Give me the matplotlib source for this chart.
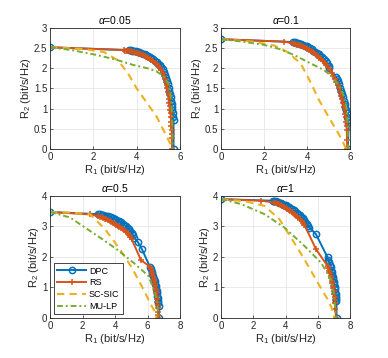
import matplotlib
matplotlib.use('Agg')
import matplotlib.pyplot as plt
from matplotlib.ticker import FuncFormatter

plt.rcParams['font.family'] = ['Liberation Sans', 'DejaVu Sans']
plt.rcParams['mathtext.fontset'] = 'custom'
plt.rcParams['mathtext.rm'] = 'Liberation Sans'
plt.rcParams['mathtext.it'] = 'Liberation Sans:italic'

COLORS = {'DPC': '#0072BD', 'RS': '#D95319', 'SC-SIC': '#EDB120', 'MU-LP': '#77AC30'}

ALPHAS = ['0.05', '0.1', '0.5', '1']

# ---- alpha = 0.05 ----
dpc_x_005 = [0, 3.65, 3.72, 3.80, 3.88, 3.96, 4.04, 4.12, 4.20, 4.28, 4.36, 4.44, 4.52, 4.60, 4.68,
             4.76, 4.84, 4.92, 5.00, 5.07, 5.14, 5.20, 5.26, 5.31, 5.36, 5.40, 5.44, 5.48, 5.51,
             5.54, 5.57, 5.59, 5.61, 5.63, 5.65, 5.67, 5.68, 5.70, 5.70]
dpc_y_005 = [2.52, 2.45, 2.445, 2.44, 2.43, 2.42, 2.41, 2.40, 2.38, 2.365, 2.35, 2.33, 2.31, 2.28, 2.25,
             2.22, 2.19, 2.15, 2.11, 2.07, 2.02, 1.97, 1.91, 1.84, 1.76, 1.68, 1.60, 1.52, 1.44,
             1.36, 1.28, 1.20, 1.12, 1.04, 0.96, 0.88, 0.80, 0.72, 0.0]
rs_x_005 = [0, 3.40, 3.48, 3.56, 3.64, 3.72, 3.80, 3.88, 3.96, 4.04, 4.12, 4.20, 4.28, 4.36, 4.44,
            4.52, 4.60, 4.68, 4.76, 4.84, 4.92, 5.00, 5.07, 5.14, 5.20, 5.25, 5.30, 5.34, 5.38,
            5.41, 5.44, 5.47, 5.49, 5.51, 5.53, 5.55, 5.56, 5.58, 5.59, 5.60, 5.61, 5.62, 5.62, 5.63]
rs_y_005 = [2.52, 2.45, 2.44, 2.435, 2.43, 2.42, 2.41, 2.40, 2.39, 2.375, 2.36, 2.345, 2.33, 2.31, 2.29,
            2.265, 2.24, 2.21, 2.18, 2.14, 2.10, 2.06, 2.01, 1.95, 1.89, 1.82, 1.74, 1.66, 1.58,
            1.50, 1.42, 1.33, 1.24, 1.15, 1.06, 0.97, 0.88, 0.78, 0.68, 0.58, 0.48, 0.38, 0.28, 0.0]
sic_x_005 = [0, 1.5, 2.5, 3.15, 3.6, 4.0, 4.5, 4.92, 5.3, 5.54, 5.62]
sic_y_005 = [2.52, 2.48, 2.40, 2.19, 1.87, 1.50, 1.12, 0.80, 0.40, 0.14, 0.0]
lp_x_005 = [0, 1.0, 2.15, 3.0, 3.85, 4.5, 4.92, 5.2, 5.46, 5.6, 5.64, 5.66]
lp_y_005 = [2.52, 2.45, 2.33, 2.22, 2.08, 2.0, 1.92, 1.82, 1.63, 1.21, 0.6, 0.0]

# ---- alpha = 0.1 ----
dpc_x_01 = [0, 3.35, 3.42, 3.50, 3.58, 3.66, 3.74, 3.82, 3.90, 3.98, 4.06, 4.14, 4.22, 4.30, 4.38,
            4.46, 4.54, 4.62, 4.70, 4.78, 4.86, 4.94, 5.00, 5.02, 5.35, 5.40, 5.45, 5.50, 5.55,
            5.60, 5.64, 5.68, 5.72, 5.75, 5.78, 5.81, 5.84, 5.87, 5.89, 5.92, 5.94, 5.90]
dpc_y_01 = [2.72, 2.65, 2.645, 2.635, 2.625, 2.61, 2.595, 2.58, 2.56, 2.54, 2.52, 2.495, 2.47, 2.44, 2.41,
            2.38, 2.35, 2.31, 2.27, 2.23, 2.18, 2.12, 2.05, 2.00, 1.78, 1.74, 1.68, 1.60, 1.52,
            1.44, 1.36, 1.28, 1.20, 1.12, 1.04, 0.96, 0.88, 0.80, 0.72, 0.64, 0.56, 0.0]
rs_x_01 = [0, 2.95, 3.30, 3.38, 3.46, 3.54, 3.62, 3.70, 3.78, 3.86, 3.94, 4.02, 4.10, 4.18, 4.26,
           4.34, 4.42, 4.50, 4.58, 4.66, 4.74, 4.82, 4.90, 4.98, 5.06, 5.14, 5.22, 5.30, 5.37,
           5.44, 5.50, 5.55, 5.60, 5.64, 5.68, 5.72, 5.75, 5.78, 5.80, 5.82, 5.84, 5.85, 5.86, 5.87]
rs_y_01 = [2.72, 2.66, 2.62, 2.61, 2.60, 2.585, 2.57, 2.555, 2.54, 2.52, 2.50, 2.48, 2.455, 2.43, 2.40,
           2.37, 2.34, 2.30, 2.26, 2.22, 2.18, 2.13, 2.08, 2.02, 1.96, 1.89, 1.82, 1.74, 1.66,
           1.58, 1.50, 1.41, 1.32, 1.23, 1.14, 1.05, 0.96, 0.87, 0.78, 0.68, 0.58, 0.48, 0.22, 0.0]
sic_x_01 = [0, 1.5, 2.5, 3.1, 3.7, 4.1, 4.56, 5.0, 5.41, 5.65, 5.82]
sic_y_01 = [2.72, 2.66, 2.56, 2.40, 2.12, 1.72, 1.21, 0.80, 0.43, 0.2, 0.0]
lp_x_01 = [0, 1.0, 1.99, 2.7, 3.39, 4.32, 4.8, 5.18, 5.57, 5.75, 5.85, 5.9, 5.91]
lp_y_01 = [2.72, 2.66, 2.58, 2.48, 2.33, 2.08, 1.95, 1.79, 1.5, 1.25, 0.97, 0.5, 0.0]

# ---- alpha = 0.5 ----
dpc_x_05 = [0, 2.97, 3.07, 3.17, 3.27, 3.37, 3.47, 3.57, 3.67, 3.77, 3.87, 3.97, 4.07, 4.17, 4.27,
            4.37, 4.47, 4.57, 4.67, 4.77, 4.87, 4.95, 5.03, 5.10, 5.19, 5.40, 5.64, 6.15, 6.20,
            6.25, 6.30, 6.35, 6.39, 6.43, 6.47, 6.50, 6.53, 6.56, 6.58, 6.61, 6.63, 6.65, 6.67,
            6.69, 6.70]
dpc_y_05 = [3.47, 3.40, 3.39, 3.38, 3.37, 3.355, 3.34, 3.325, 3.31, 3.29, 3.27, 3.25, 3.22, 3.19, 3.16,
            3.13, 3.09, 3.05, 3.01, 2.96, 2.91, 2.85, 2.78, 2.71, 2.62, 2.49, 2.27, 1.67, 1.60,
            1.52, 1.44, 1.36, 1.28, 1.20, 1.12, 1.04, 0.96, 0.88, 0.80, 0.72, 0.64, 0.56, 0.48,
            0.40, 0.0]
rs_x_05 = [0, 2.46, 2.97, 3.07, 3.17, 3.27, 3.37, 3.47, 3.57, 3.67, 3.77, 3.87, 3.97, 4.07, 4.17,
           4.27, 4.37, 4.47, 4.57, 4.67, 4.77, 4.87, 4.95, 5.03, 5.60, 6.15, 6.20, 6.25, 6.30,
           6.34, 6.38, 6.42, 6.45, 6.48, 6.51, 6.53, 6.55, 6.57, 6.59, 6.60, 6.62, 6.63, 6.65,
           6.66, 6.67]
rs_y_05 = [3.47, 3.39, 3.34, 3.32, 3.30, 3.28, 3.255, 3.23, 3.20, 3.17, 3.15, 3.12, 3.09, 3.06, 3.02,
           2.99, 2.95, 2.91, 2.87, 2.82, 2.77, 2.71, 2.64, 2.57, 1.89, 1.68, 1.60, 1.52, 1.44,
           1.36, 1.28, 1.20, 1.12, 1.04, 0.96, 0.88, 0.80, 0.72, 0.62, 0.52, 0.42, 0.32, 0.20,
           0.10, 0.0]
sic_x_05 = [0, 1.2, 2.46, 3.38, 4.3, 5.03, 5.74, 6.15, 6.4, 6.56]
sic_y_05 = [3.47, 3.45, 3.40, 2.91, 2.25, 1.65, 0.94, 0.5, 0.25, 0.0]
lp_x_05 = [0, 1.23, 2.46, 3.3, 4.1, 5.13, 6.05, 6.46, 6.6, 6.67]
lp_y_05 = [3.47, 3.29, 2.85, 2.55, 2.25, 1.81, 1.38, 0.83, 0.45, 0.0]

# ---- alpha = 1 ----
dpc_x_1 = [0, 3.20, 3.30, 3.40, 3.50, 3.60, 3.70, 3.80, 3.90, 4.00, 4.10, 4.20, 4.30, 4.40, 4.50,
           4.60, 4.70, 4.80, 4.90, 4.98, 5.06, 5.14, 5.22, 5.30, 5.38, 5.48, 5.89, 6.61, 6.66,
           6.71, 6.76, 6.80, 6.84, 6.88, 6.91, 6.94, 6.97, 7.00, 7.03, 7.05, 7.07, 7.09, 7.11,
           7.13, 7.15, 7.16, 7.17]
dpc_y_1 = [3.89, 3.84, 3.83, 3.815, 3.80, 3.78, 3.76, 3.74, 3.715, 3.69, 3.66, 3.63, 3.60, 3.565, 3.53,
           3.49, 3.45, 3.41, 3.37, 3.32, 3.26, 3.20, 3.14, 3.08, 3.02, 2.96, 2.74, 1.98, 1.90,
           1.82, 1.74, 1.66, 1.58, 1.50, 1.42, 1.34, 1.26, 1.18, 1.10, 1.02, 0.94, 0.86, 0.78,
           0.70, 0.62, 0.54, 0.0]
rs_x_1 = [0, 2.48, 3.30, 3.40, 3.50, 3.60, 3.70, 3.80, 3.90, 4.00, 4.10, 4.20, 4.30, 4.40, 4.50,
          4.60, 4.70, 4.80, 4.90, 5.00, 5.10, 5.17, 5.89, 6.61, 6.66, 6.71, 6.76, 6.80, 6.84,
          6.88, 6.91, 6.94, 6.97, 7.00, 7.02, 7.04, 7.06, 7.08, 7.10, 7.13]
rs_y_1 = [3.89, 3.84, 3.78, 3.76, 3.74, 3.72, 3.70, 3.67, 3.64, 3.61, 3.58, 3.54, 3.50, 3.46, 3.42,
          3.38, 3.33, 3.28, 3.23, 3.17, 3.11, 3.05, 2.25, 1.70, 1.62, 1.54, 1.46, 1.38, 1.30,
          1.22, 1.14, 1.06, 0.98, 0.88, 0.78, 0.68, 0.58, 0.48, 0.30, 0.0]
sic_x_1 = [0, 1.5, 2.69, 3.62, 4.34, 5.17, 5.99, 6.61, 6.85, 7.02]
sic_y_1 = [3.89, 3.82, 3.67, 3.23, 2.63, 1.92, 1.16, 0.61, 0.35, 0.0]
lp_x_1 = [0, 1.24, 2.69, 3.93, 5.17, 6.2, 6.82, 7.02, 7.13]
lp_y_1 = [3.89, 3.73, 3.40, 2.96, 2.36, 1.81, 1.27, 0.72, 0.0]

PANELS = [
    (dpc_x_005, dpc_y_005, rs_x_005, rs_y_005, sic_x_005, sic_y_005, lp_x_005, lp_y_005),
    (dpc_x_01, dpc_y_01, rs_x_01, rs_y_01, sic_x_01, sic_y_01, lp_x_01, lp_y_01),
    (dpc_x_05, dpc_y_05, rs_x_05, rs_y_05, sic_x_05, sic_y_05, lp_x_05, lp_y_05),
    (dpc_x_1, dpc_y_1, rs_x_1, rs_y_1, sic_x_1, sic_y_1, lp_x_1, lp_y_1),
]
XLIMS = [(0, 6), (0, 6), (0, 8), (0, 8)]
YLIMS = [(0, 3), (0, 3), (0, 4), (0, 4)]
YTICKS = [[0, 0.5, 1, 1.5, 2, 2.5, 3], [0, 0.5, 1, 1.5, 2, 2.5, 3],
          [0, 1, 2, 3, 4], [0, 1, 2, 3, 4]]
XTICKS = [[0, 2, 4, 6], [0, 2, 4, 6], [0, 2, 4, 6, 8], [0, 2, 4, 6, 8]]

RECTS = [[0.129, 0.584, 0.335, 0.338], [0.570, 0.584, 0.332, 0.338],
         [0.129, 0.112, 0.335, 0.341], [0.570, 0.112, 0.332, 0.341]]

fig = plt.figure(figsize=(3.88, 3.58), dpi=100)
fmt = FuncFormatter(lambda v, _: f'{v:g}')

for i, (alpha, data) in enumerate(zip(ALPHAS, PANELS)):
    ax = fig.add_axes(RECTS[i])
    dx, dy, rx, ry, sx, sy, lx, ly = data
    ax.plot(dx, dy, '-o', color=COLORS['DPC'], lw=1.4, ms=4.5, mfc='none', mew=1.1, label='DPC')
    ax.plot(rx, ry, '-+', color=COLORS['RS'], lw=1.4, ms=5, mew=1.1, label='RS')
    ax.plot(sx, sy, '--', color=COLORS['SC-SIC'], lw=1.5, dashes=(3.5, 2.5), label='SC-SIC')
    ax.plot(lx, ly, '-.', color=COLORS['MU-LP'], lw=1.4, dashes=(3, 1.5, 1, 1.5), label='MU-LP')

    ax.set_xlim(*XLIMS[i])
    ax.set_ylim(*YLIMS[i])
    ax.set_xticks(XTICKS[i])
    ax.set_yticks(YTICKS[i])
    ax.xaxis.set_major_formatter(fmt)
    ax.yaxis.set_major_formatter(fmt)
    ax.tick_params(direction='in', length=2.5, width=0.5, labelsize=7, colors='#262626', pad=2)
    ax.grid(True, color='#e6e6e6', lw=0.6)
    ax.set_axisbelow(True)
    for sp in ax.spines.values():
        sp.set_linewidth(0.6)
        sp.set_color('#262626')
    ax.set_title(r'$\alpha$=' + alpha, fontsize=7.5, pad=3)
    ax.set_xlabel(r'R$_\mathregular{1}$ (bit/s/Hz)', fontsize=8, labelpad=1, color='#262626')
    ax.set_ylabel(r'R$_\mathregular{2}$ (bit/s/Hz)', fontsize=8, labelpad=1, color='#262626')

    if i == 2:
        leg = ax.legend(loc='lower left', fontsize=6.5, handlelength=3.2, borderaxespad=0.4,
                        fancybox=False, edgecolor='#262626', framealpha=1,
                        labelspacing=0.3, borderpad=0.4, handletextpad=0.3)
        leg.get_frame().set_linewidth(0.6)

fig.savefig('out.png', dpi=100)
